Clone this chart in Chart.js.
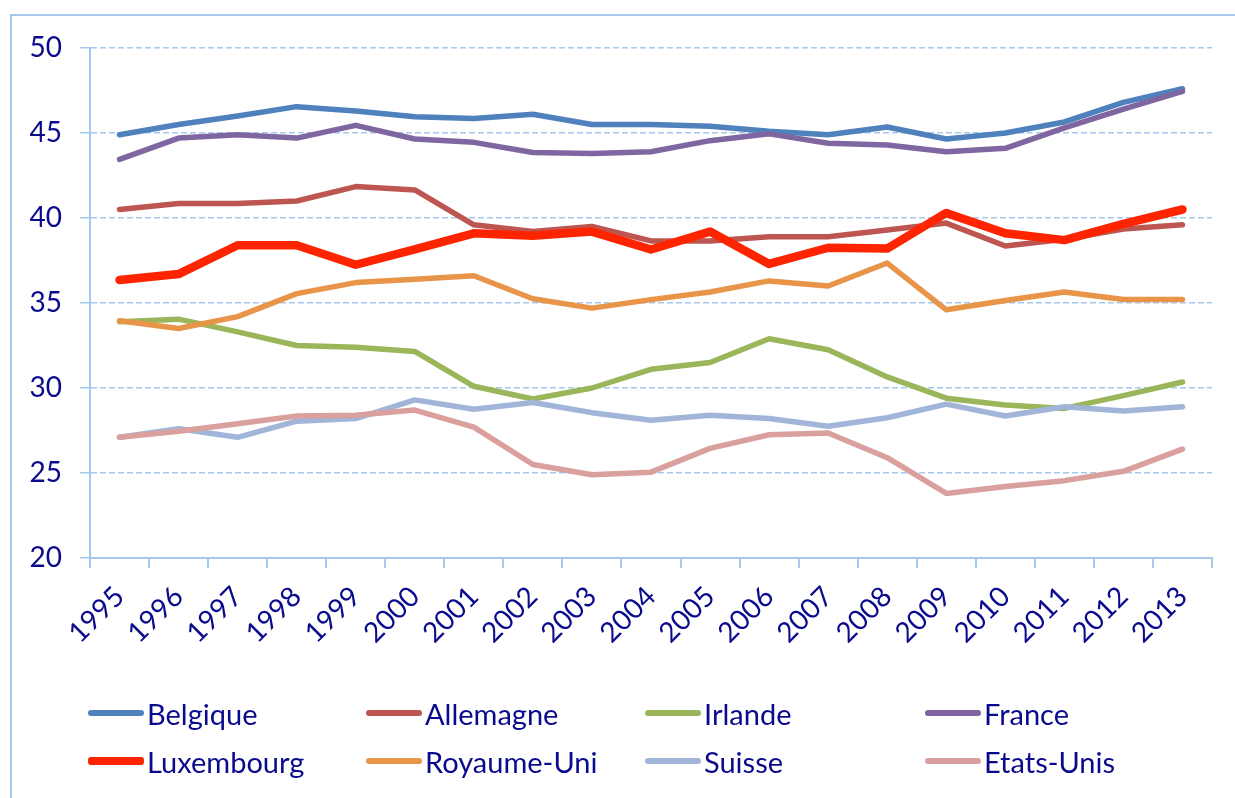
<!DOCTYPE html>
<html>
<head>
<meta charset="utf-8">
<script src="https://cdn.jsdelivr.net/npm/chart.js@4"></script>
<style>
    body { margin: 0; width: 1235px; height: 798px; overflow: hidden; background: #fff; font-family: Lato, "Noto Sans", sans-serif; }
    #frame { position: absolute; left: 10px; top: 14px; width: 1300px; height: 900px; border-left: 2px solid #a9c8ee; border-top: 2px solid #a9c8ee; }
    #wrap { position: absolute; left: 0; top: 0; width: 1235px; height: 798px; }
    #legend { position: absolute; left: 0; top: 0; }
    .item { position: absolute; height: 34px; display: flex; align-items: center; white-space: nowrap; color: #0a0a8c; font-size: 29px; }
    .item .swatch { display: inline-block; width: 56px; border-radius: 3px; margin-right: 3px; }
</style>
</head>
<body>
<div id="frame"></div>
<div id="wrap"><canvas id="chart" width="1235" height="798"></canvas></div>
<div id="legend"></div>
<script>
const years = ['1995', '1996', '1997', '1998', '1999', '2000', '2001', '2002', '2003', '2004',
    '2005', '2006', '2007', '2008', '2009', '2010', '2011', '2012', '2013'];

const belgique = [44.9, 45.5, 46.0, 46.55, 46.3, 45.95, 45.85, 46.1, 45.5, 45.5, 45.4, 45.1, 44.9, 45.35, 44.65, 45.0, 45.65, 46.8, 47.6];
const allemagne = [40.5, 40.85, 40.85, 41.0, 41.85, 41.65, 39.6, 39.2, 39.5, 38.65, 38.65, 38.9, 38.9, 39.3, 39.7, 38.35, 38.75, 39.35, 39.6];
const irlande = [33.9, 34.05, 33.3, 32.5, 32.4, 32.15, 30.1, 29.35, 30.0, 31.1, 31.5, 32.9, 32.25, 30.65, 29.4, 29.0, 28.8, 29.55, 30.35];
const france = [43.45, 44.7, 44.9, 44.7, 45.45, 44.65, 44.45, 43.85, 43.8, 43.9, 44.55, 44.95, 44.4, 44.3, 43.9, 44.1, 45.3, 46.4, 47.45];
const luxembourg = [36.35, 36.7, 38.4, 38.4, 37.25, 38.15, 39.1, 38.95, 39.2, 38.15, 39.2, 37.3, 38.25, 38.2, 40.3, 39.1, 38.7, 39.65, 40.5];
const royaumeUni = [33.95, 33.5, 34.2, 35.55, 36.2, 36.4, 36.6, 35.25, 34.7, 35.2, 35.65, 36.3, 36.0, 37.35, 34.6, 35.15, 35.65, 35.2, 35.2];
const suisse = [27.1, 27.6, 27.1, 28.05, 28.2, 29.3, 28.75, 29.15, 28.55, 28.1, 28.4, 28.2, 27.75, 28.25, 29.05, 28.35, 28.9, 28.65, 28.9];
const etatsUnis = [27.1, 27.45, 27.9, 28.35, 28.4, 28.7, 27.7, 25.5, 24.9, 25.05, 26.45, 27.25, 27.35, 25.9, 23.8, 24.2, 24.55, 25.1, 26.4];

const yTicks = [20, 25, 30, 35, 40, 45, 50];

const series = [
    { label: 'Belgique', data: belgique, color: '#4f81bd', width: 5.5 },
    { label: 'Allemagne', data: allemagne, color: '#bd5550', width: 5.5 },
    { label: 'Irlande', data: irlande, color: '#9bb65a', width: 5.5 },
    { label: 'France', data: france, color: '#8066a0', width: 5.5 },
    { label: 'Luxembourg', data: luxembourg, color: '#ff2400', width: 8.5 },
    { label: 'Royaume-Uni', data: royaumeUni, color: '#e8954a', width: 5.5 },
    { label: 'Suisse', data: suisse, color: '#a0b5d8', width: 5.5 },
    { label: 'Etats-Unis', data: etatsUnis, color: '#d9a09e', width: 5.5 }
];

const axisColor = '#a6c8ee';
const textColor = '#0a0a8c';
const tickFont = { family: 'Lato', size: 28 };

// later series drawn on top, like the original
const datasets = series.map((s, i) => ({
    label: s.label,
    data: s.data,
    borderColor: s.color,
    backgroundColor: s.color,
    borderWidth: s.width,
    pointRadius: 0,
    tension: 0,
    fill: false,
    borderCapStyle: 'round',
    borderJoinStyle: 'round',
    order: series.length - i
}));

const ctx = document.getElementById('chart').getContext('2d');
const chart = new Chart(ctx, {
    type: 'line',
    data: { labels: years, datasets: datasets },
    options: {
        responsive: false,
        animation: false,
        layout: { padding: { left: 0, right: 23, top: 48, bottom: 0 } },
        plugins: {
            legend: { display: false },
            tooltip: { enabled: false }
        },
        scales: {
            x: {
                offset: true,
                grid: { offset: true, drawOnChartArea: false, drawTicks: true, tickLength: 10, color: axisColor, lineWidth: 2 },
                border: { color: axisColor, width: 2 },
                ticks: { minRotation: 45, maxRotation: 45, font: tickFont, color: textColor, padding: 12 },
                afterFit: scale => { scale.height = 240; }
            },
            y: {
                min: 20,
                max: 50,
                afterBuildTicks: scale => { scale.ticks = yTicks.map(v => ({ value: v })); },
                grid: { color: axisColor, lineWidth: 1.5, tickLength: 10 },
                border: { color: axisColor, width: 2, dash: [6, 3] },
                ticks: { font: tickFont, color: textColor, padding: 18 },
                afterFit: scale => { scale.width = 90; }
            }
        }
    }
});

// legend in four fixed columns, two rows
const legend = document.getElementById('legend');
const colX = [88, 366, 645, 925];
const rowY = [696, 744];
series.forEach((s, i) => {
    const item = document.createElement('div');
    item.className = 'item';
    item.style.left = colX[i % 4] + 'px';
    item.style.top = rowY[Math.floor(i / 4)] + 'px';
    const sw = document.createElement('span');
    sw.className = 'swatch';
    sw.style.background = s.color;
    sw.style.height = s.width + 'px';
    item.appendChild(sw);
    item.appendChild(document.createTextNode(s.label));
    legend.appendChild(item);
});
</script>
</body>
</html>
